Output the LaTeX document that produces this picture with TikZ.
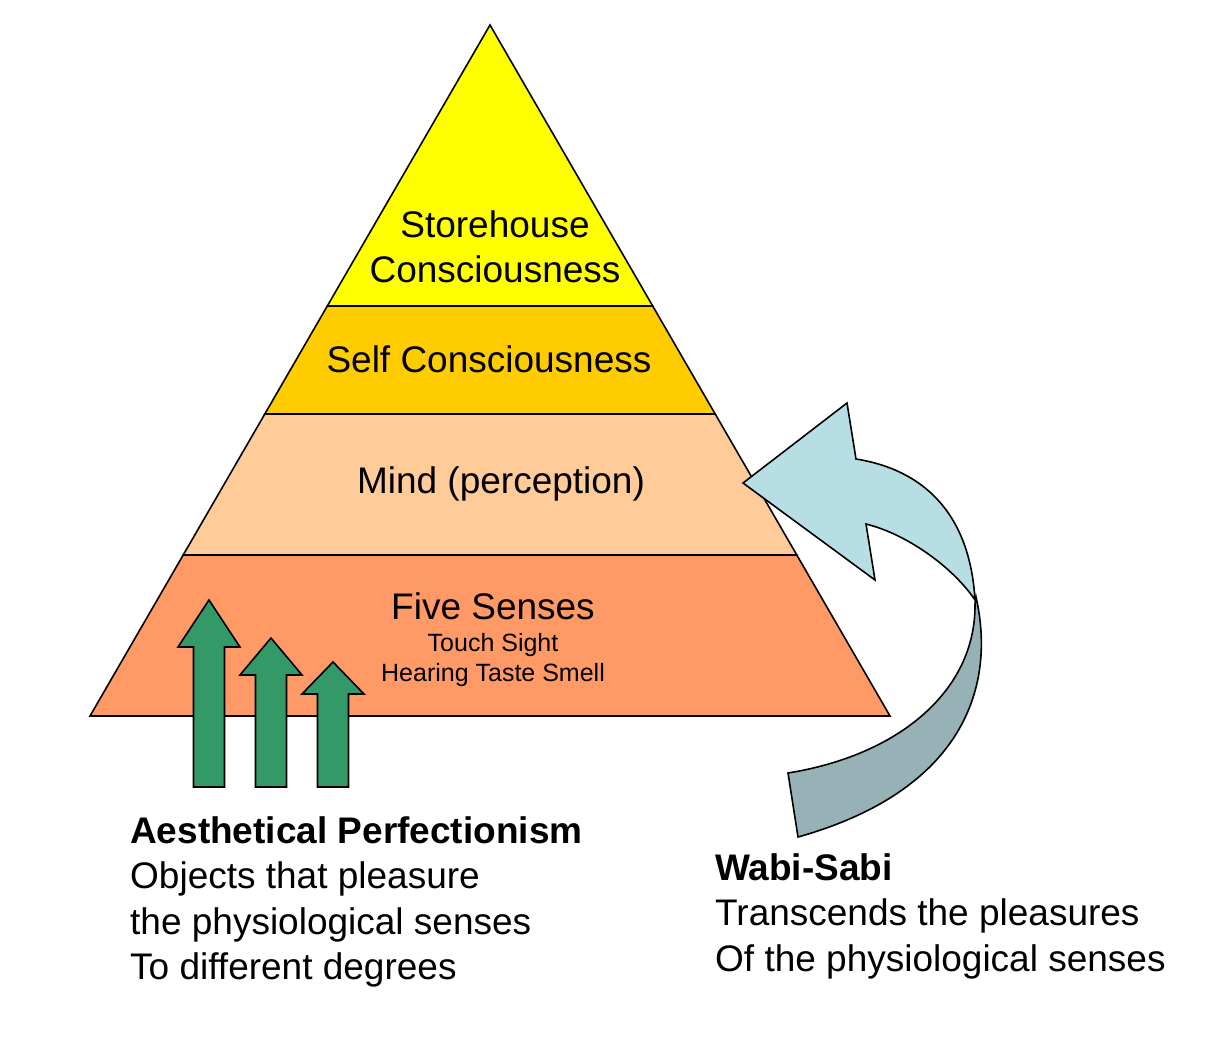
\documentclass[tikz,border=0pt]{standalone}
\usepackage{fontspec}
\setmainfont{Liberation Sans}
\usepackage{xcolor}
\usepackage{tikz}
\usetikzlibrary{positioning}
\definecolor{ink}{RGB}{0,0,0}
\definecolor{storefill}{RGB}{255,255,0}
\definecolor{selffill}{RGB}{255,204,0}
\definecolor{mindfill}{RGB}{255,204,153}
\definecolor{sensefill}{RGB}{255,153,102}
\definecolor{risefill}{RGB}{51,153,102}
\definecolor{wabifront}{RGB}{183,223,227}
\definecolor{wabiback}{RGB}{150,178,182}
\def\ArrBot{787}
\def\HeadW{31}
\def\ShaftW{15.5}
\tikzset{
  band/.style={draw=ink, line width=1.6pt, line join=miter},
  rise/.style={draw=ink, fill=risefill, line width=1.6pt, line join=miter},
  twist/.style={draw=ink, fill=#1, line width=1.6pt, line join=miter},
  tier/.style={
    align=center, inner sep=0pt, text=ink,
    font=\fontsize{37}{45}\selectfont,
  },
  tierlist/.style={
    align=center, inner sep=0pt, text=ink,
    font=\fontsize{25}{30}\selectfont,
  },
  caption/.style={
    anchor=north west, align=left, inner sep=0pt, text=ink,
    font=\fontsize{37}{45.5}\selectfont,
  },
}

\begin{document}
\begin{tikzpicture}[x=1pt,y=-1pt]
  \useasboundingbox (0,0) rectangle (1213,1050);

  \coordinate (apex) at (490,25);
  \coordinate (l1) at (327.3,306); \coordinate (r1) at (652.7,306);
  \coordinate (l2) at (264.8,414); \coordinate (r2) at (715.2,414);
  \coordinate (l3) at (183.2,555); \coordinate (r3) at (796.8,555);
  \coordinate (l4) at (90,716);    \coordinate (r4) at (890,716);

  \draw[band, fill=storefill] (apex) -- (r1) -- (l1) -- cycle;
  \draw[band, fill=selffill] (l1) -- (r1) -- (r2) -- (l2) -- cycle;
  \draw[band, fill=mindfill] (l2) -- (r2) -- (r3) -- (l3) -- cycle;
  \draw[band, fill=sensefill] (l3) -- (r3) -- (r4) -- (l4) -- cycle;

  \foreach \ax/\ay/\hy in {209/600/647, 271/638/675, 333/662/694}
    \draw[rise] (\ax,\ay) -- (\ax+\HeadW,\hy) -- (\ax+\ShaftW,\hy) -- (\ax+\ShaftW,\ArrBot)
      -- (\ax-\ShaftW,\ArrBot) -- (\ax-\ShaftW,\hy) -- (\ax-\HeadW,\hy) -- cycle;

  \draw[twist=wabiback] (975,604) .. controls (976,690) and (900,755) .. (788,773)
    -- (798,837) .. controls (965,790) and (996,685) .. (976,597) -- cycle;
  \draw[twist=wabifront] (743,483) -- (847,403) -- (856,459)
    .. controls (925,470) and (970,515) .. (975,600)
    .. controls (955,570) and (910,535) .. (866,524) -- (875,580) -- cycle;

  \node[tier] (store) at (495,247) {Storehouse\\Consciousness};
  \node[tier] (self) at (489,359) {Self Consciousness};
  \node[tier] (mind) at (501,484) {Mind (perception)};
  \node[tier] (senses) at (493,606) {Five Senses};
  \node[tierlist] (senselist) at (493,660) {Touch Sight\\Hearing Taste Smell};

  \node[caption] (aesthetic) at (130,816) {\textbf{Aesthetical Perfectionism}\\Objects that pleasure\\the physiological senses\\To different degrees};
  \node[caption] (wabisabi) at (715,853) {\textbf{Wabi-Sabi}\\Transcends the pleasures\\Of the physiological senses};
\end{tikzpicture}
\end{document}
